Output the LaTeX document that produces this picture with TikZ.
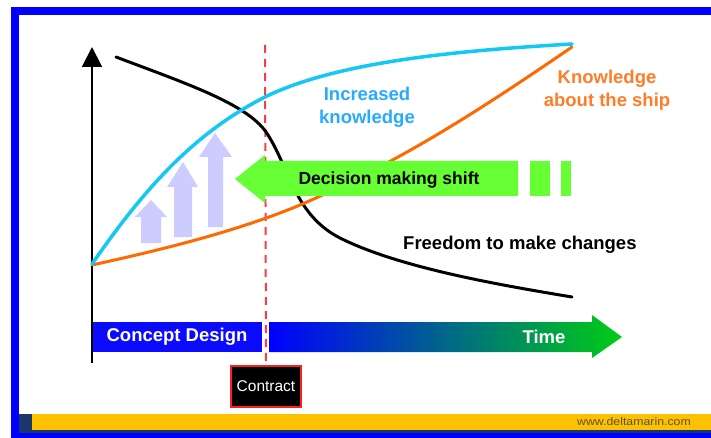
\documentclass[tikz,border=0pt]{standalone}
\usepackage{fontspec}
\setmainfont{Liberation Sans}
\usetikzlibrary{arrows.meta}

\definecolor{frameblue}{RGB}{0,0,255}
\definecolor{footyellow}{RGB}{255,192,0}
\definecolor{footnavy}{RGB}{25,55,105}
\definecolor{urlgray}{RGB}{85,85,60}
\definecolor{curvecyan}{RGB}{20,200,245}
\definecolor{labelblue}{RGB}{40,170,255}
\definecolor{curveorange}{RGB}{255,105,0}
\definecolor{labelorange}{RGB}{255,125,40}
\definecolor{shiftgreen}{RGB}{102,255,51}
\definecolor{liftlav}{RGB}{204,204,255}
\definecolor{conceptblue}{RGB}{10,10,255}
\definecolor{timegreen}{RGB}{0,205,20}
\definecolor{contractred}{RGB}{255,30,30}
\definecolor{dashred}{RGB}{255,60,60}

\tikzset{
  bigtext/.style={font=\fontsize{18.5}{23}\selectfont\bfseries, inner sep=0pt, align=center},
  curve/.style={line width=3pt, line cap=round, line join=round},
}

\begin{document}
\begin{tikzpicture}[x=1pt,y=-1pt]
\useasboundingbox (0,0) rectangle (711,438);
\fill[white] (0,0) rectangle (711,438);

% slide frame and footer
\fill[frameblue] (11,7) rectangle (711,15);
\fill[frameblue] (11,7) rectangle (19,438);
\fill[frameblue] (11,433) rectangle (711,438);
\fill[footyellow] (19,414) rectangle (711,430);
\fill[footnavy] (19,430) rectangle (711,433);
\fill[footnavy] (19,414) rectangle (32,430);
\node[text=urlgray, font=\fontsize{11}{13}\selectfont, inner sep=0pt] (url) at (634,422)
  {\scalebox{1.12}[1]{www.deltamarin.com}};

% vertical axis
\coordinate (axisbase) at (92,363);
\coordinate (axistop) at (92,47);
\draw[line width=2pt, -{Triangle[width=20pt,length=20pt]}] (axisbase) -- (axistop);

% rising arrows of knowledge
\fill[liftlav] (151,200) -- (167,217) -- (161,217) -- (161,243) -- (141,243) -- (141,217) -- (135,217) -- cycle;
\fill[liftlav] (183,162) -- (198,187) -- (192,187) -- (192,237) -- (174,237) -- (174,187) -- (167,187) -- cycle;
\fill[liftlav] (215,133) -- (232,157) -- (223,157) -- (223,227) -- (208,227) -- (208,157) -- (199,157) -- cycle;

% contract milestone and its dashed line
\node[draw=contractred, line width=2pt, fill=black, text=white, minimum width=70pt, minimum height=41pt,
      inner sep=0pt, font=\fontsize{15.5}{18}\selectfont] (contract) at (266,386) {Contract};
\coordinate (dtop) at (265,45);
\draw[dashred, line width=2pt, dash pattern=on 8pt off 6pt] (dtop) -- (contract.north);

% curves
\draw[curve, black] (116,57) .. controls (190,85) and (250,105) .. (268,135)
  .. controls (290,170) and (295,215) .. (340,238)
  .. controls (400,268) and (500,285) .. (572,297);
\draw[curve, curveorange] (92,265) .. controls (170,248) and (240,230) .. (300,205)
  .. controls (400,162) and (480,110) .. (572,47);
\draw[curve, curvecyan, line width=3.5pt] (92,264) .. controls (140,195) and (190,135) .. (265,97)
  .. controls (340,60) and (470,50) .. (572,44);

% decision making shift arrow
\fill[shiftgreen] (235,179) -- (265,155) -- (265,161) -- (518,161) -- (518,196) -- (265,196) -- (265,203) -- cycle;
\fill[shiftgreen] (530,161) rectangle (550,196);
\fill[shiftgreen] (561,161) rectangle (571,196);
\node[bigtext, font=\fontsize{17.5}{21}\selectfont\bfseries] (shift) at (389,180) {Decision making shift};

% labels
\node[bigtext, text=labelblue] (incr) at (367,107) {Increased\\knowledge};
\node[bigtext, text=labelorange] (ship) at (607,90) {Knowledge\\about the ship};
\node[bigtext, anchor=west] (freedom) at (403,245) {Freedom to make changes};

% time bar
\fill[conceptblue] (93,322) rectangle (262,352);
\node[bigtext, text=white] (concept) at (177,337) {Concept Design};
\shade[left color=frameblue, right color=timegreen]
  (269,322) -- (592,322) -- (592,315) -- (622,337) -- (592,358) -- (592,352) -- (269,352) -- cycle;
\node[bigtext, text=white] (time) at (544,337) {Time};
\end{tikzpicture}
\end{document}
